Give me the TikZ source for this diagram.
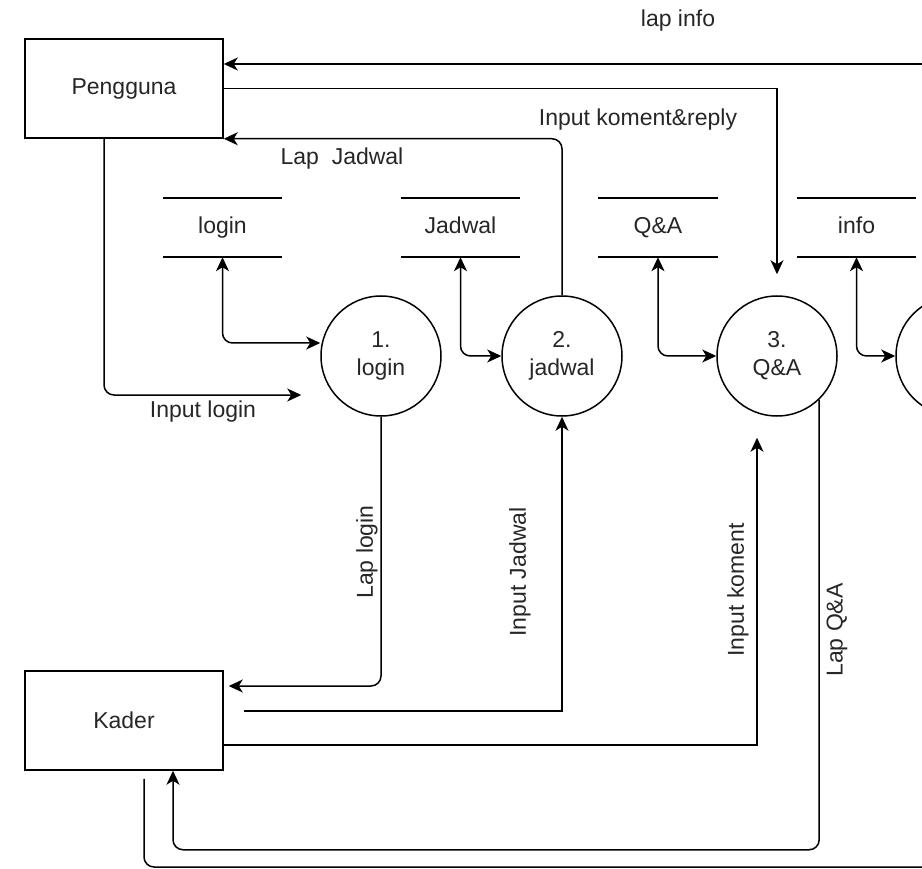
\documentclass[tikz,border=0pt]{standalone}
\usepackage{fontspec}
\setmainfont{Liberation Sans}
\usetikzlibrary{arrows.meta,positioning}

\begin{document}
\begin{tikzpicture}[
    x=1pt, y=-1pt,
    every node/.style={font=\fontsize{23}{28}\selectfont, text=black!85},
    entity/.style={rectangle, draw, line width=1.5pt, minimum width=198pt, minimum height=99pt, inner sep=0pt},
    proc/.style={circle, draw, line width=1.5pt, minimum size=120pt, inner sep=0pt, align=center},
    store/.style={minimum width=119pt, minimum height=59pt, inner sep=0pt, text height=17pt, text depth=5pt},
    wire/.style={line width=1.5pt},
    flow/.style={-{Stealth[length=14pt, width=13pt, inset=4pt]}, line width=1.5pt},
    flow2/.style={{Stealth[length=14pt, width=13pt, inset=4pt]}-{Stealth[length=14pt, width=13pt, inset=4pt]}, line width=1.5pt, rounded corners=10pt},
    flowtext/.style={inner sep=0pt},
    vtext/.style={inner sep=0pt, rotate=90}
]
\useasboundingbox (0,0) rectangle (922,869);
\clip (0,0) rectangle (922,869);

\node[entity] (pengguna) at (124,88.5) {Pengguna};
\node[entity] (kader) at (124,720.5) {Kader};

\node[store] (sLogin) at (222.5,227.5) {login};
\node[store] (sJadwal) at (460.5,227.5) {Jadwal};
\node[store] (sQA) at (658,227.5) {Q\&A};
\node[store] (sInfo) at (856.5,227.5) {info};
\foreach \s in {sLogin,sJadwal,sQA,sInfo}
    \draw[wire] (\s.north west) -- (\s.north east) (\s.south west) -- (\s.south east);

\node[proc] (login) at (381,356) {1.\\login};
\node[proc] (jadwal) at (562,356) {2.\\jadwal};
\node[proc] (qa) at (777,356) {3.\\Q\&A};
\node[proc] (info) at (956,356) {};

\coordinate (infoR) at (930,64);
\coordinate (botR) at (930,867);

\draw[flow] (infoR) -- (pengguna.east |- infoR);
\draw[flow] (pengguna.east) -| ([yshift=21pt]qa.north);
\draw[flow, rounded corners=10pt] (jadwal.north) |- (pengguna.south east);
\draw[flow, rounded corners=10pt] ([xshift=-20pt]pengguna.south) |- ([shift={(-19pt,-39pt)}]login.west);

\draw[flow2] (sLogin.south) |- ([yshift=13pt]login.west);
\draw[flow2] (sJadwal.south) |- (jadwal.west);
\draw[flow2] (sQA.south) |- (qa.west);
\draw[flow2] (sInfo.south) |- (info.west);

\draw[flow, rounded corners=10pt] (login.south) |- ([shift={(5pt,34.5pt)}]kader.east);
\draw[flow] ([shift={(20pt,9.5pt)}]kader.east) -| (jadwal.south);
\draw[flow] ([yshift=-24.5pt]kader.east) -| ([shift={(-20pt,-21pt)}]qa.south);
\draw[flow, rounded corners=10pt] (qa.-46) |- ([shift={(49pt,-79pt)}]kader.south) -- ([xshift=49pt]kader.south);
\draw[wire, rounded corners=10pt] ([shift={(20pt,-8pt)}]kader.south) |- (botR);

\node[flowtext] (tLapInfo) at (678,21) {lap info};
\node[flowtext] (tKomentReply) at (638,120) {Input koment\&reply};
\node[flowtext] (tLapJadwal) at (342,159) {Lap\ \ Jadwal};
\node[flowtext] (tInputLogin) at (203,412) {Input login};
\node[vtext] (tLapLogin) at (367,552) {Lap login};
\node[vtext] (tInputJadwal) at (520,572) {Input Jadwal};
\node[vtext] (tInputKoment) at (738,590) {Input koment};
\node[vtext] (tLapQA) at (837,630) {Lap Q\&A};
\end{tikzpicture}
\end{document}
